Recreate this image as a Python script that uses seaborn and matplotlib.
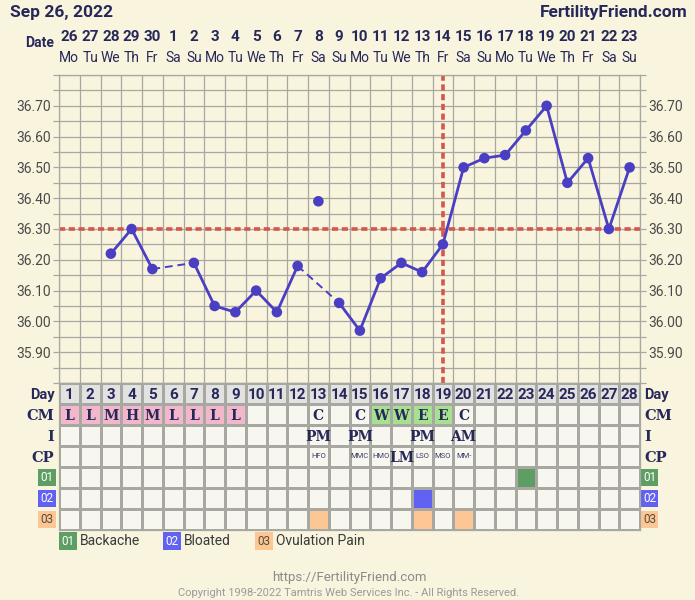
import numpy as np
import pandas as pd
import matplotlib
matplotlib.use("Agg")
import matplotlib.pyplot as plt
import matplotlib.transforms as mtransforms
from matplotlib.colors import ListedColormap
from matplotlib.patches import Rectangle
import seaborn as sns

# ---------------- data ----------------
cycle_days = list(range(1, 29))
dates = [26, 27, 28, 29, 30, 1, 2, 3, 4, 5, 6, 7, 8, 9, 10, 11, 12, 13, 14,
         15, 16, 17, 18, 19, 20, 21, 22, 23]
weekdays = ["Mo", "Tu", "We", "Th", "Fr", "Sa", "Su"] * 4
temps = [np.nan, np.nan, 36.22, 36.30, 36.17, np.nan, 36.19, 36.05, 36.03,
         36.10, 36.03, 36.18, 36.39, 36.06, 35.97, 36.14, 36.19, 36.16, 36.25,
         36.50, 36.53, 36.54, 36.62, 36.70, 36.45, 36.53, 36.30, 36.50]
discarded_days = [13]
coverline = 36.30
ovulation_day = 19
ytick_values = [35.90, 36.00, 36.10, 36.20, 36.30, 36.40, 36.50, 36.60, 36.70]
ytick_labels = ["35.90", "36.00", "36.10", "36.20", "36.30", "36.40", "36.50",
                "36.60", "36.70"]
cm_values = ["L", "L", "M", "H", "M", "L", "L", "L", "L", "", "", "", "C", "",
             "C", "W", "W", "E", "E", "C", "", "", "", "", "", "", "", ""]
intercourse_days = [13, 15, 18, 20]
intercourse_times = ["PM", "PM", "PM", "AM"]
cp_days = [13, 15, 16, 17, 18, 19, 20]
cp_codes = ["HFO", "MMC", "HMO", "LM", "LSO", "MSO", "MM-"]
symptom_codes = ["01", "02", "03"]
symptom_names = ["Backache", "Bloated", "Ovulation Pain"]
symptom_days = [[23], [18], [13, 18, 20]]
row_labels = ["Day", "CM", "I", "CP"]

# ---------------- styles ----------------
BG = "#F8F4DE"
CELL = "#F7F6EF"
DAYBG = "#E2E2E0"
GRID = "#A8A8A2"
NAVY = "#27285A"
LINE = "#4A3FC2"
RED = "#D4574E"
PINK = "#F2B7CB"
CMGREEN = "#A6E190"
SYM_COLORS = ["#5E9D63", "#6262F2", "#FCC794"]
SYM_TEXT = ["white", "white", "#5a4a3a"]
SERIF = ["DejaVu Serif"]

sns.set_theme(style="white")
plt.rcParams["font.family"] = ["Roboto", "DejaVu Sans"]

W, H = 695, 600
fig = plt.figure(figsize=(W / 100, H / 100), dpi=100, facecolor=BG)

# ---------------- temperature chart ----------------
ax = fig.add_axes([59 / W, 1 - 383 / H, 581 / W, 308 / H])
ax.set_facecolor(BG)

valid = [(d, t) for d, t in zip(cycle_days, temps)
         if not np.isnan(t) and d not in discarded_days]
rows = []
for k in range(len(valid) - 1):
    (d0, t0), (d1, t1) = valid[k], valid[k + 1]
    kind = "solid" if d1 - d0 == 1 else "gap"
    rows.append(dict(seg=k, day=d0, temp=t0, kind=kind))
    rows.append(dict(seg=k, day=d1, temp=t1, kind=kind))
seg = pd.DataFrame(rows)

pts = pd.DataFrame({"day": cycle_days, "temp": temps}).dropna()

ax.axhline(coverline, color=RED, lw=2.6, linestyle=(0, (1.7, 1.0)), zorder=2.5)
ax.axvline(ovulation_day, color=RED, lw=2.6, linestyle=(0, (1.7, 1.0)), zorder=2.5)

sns.lineplot(data=seg[seg.kind == "solid"], x="day", y="temp", units="seg",
             estimator=None, color=LINE, lw=2.0, ax=ax, legend=False, zorder=3)
sns.lineplot(data=seg[seg.kind == "gap"], x="day", y="temp", units="seg",
             estimator=None, color=LINE, lw=1.4, linestyle=(0, (4, 2.5)),
             ax=ax, legend=False, zorder=3)
sns.scatterplot(data=pts, x="day", y="temp", color=LINE, s=58, edgecolor="none",
                ax=ax, legend=False, zorder=4)

ax.set_xlim(0.5, 28.5)
ax.set_ylim(35.80, 36.80)
ax.set_xlabel("")
ax.set_ylabel("")
ax.set_xticks(np.arange(0.5, 28.6, 1.0))
ax.set_xticklabels([])
ax.tick_params(axis="x", length=0)
ypos = np.round(np.arange(35.80, 36.801, 0.05), 2)
ylabs = []
for v in ypos:
    match = [lab for tv, lab in zip(ytick_values, ytick_labels) if abs(tv - v) < 1e-6]
    ylabs.append(match[0] if match else "")
ax.set_yticks(ypos)
ax.set_yticklabels(ylabs)
ax.tick_params(axis="y", length=4, width=0.9, color=GRID, left=True, right=True,
               labelleft=True, labelright=True, labelsize=10,
               labelcolor="#4a4a4a", pad=2)
ax.grid(True, color=GRID, lw=0.9)
ax.set_axisbelow(True)
for sp in ax.spines.values():
    sp.set_visible(True)
    sp.set_color(GRID)
    sp.set_linewidth(0.9)

trans = mtransforms.blended_transform_factory(ax.transData, ax.transAxes)
for d, dt, wd in zip(cycle_days, dates, weekdays):
    ax.text(d, 1 + (75 - 37) / 308, str(dt), transform=trans, ha="center",
            va="center", fontsize=11, fontweight="bold", color=NAVY)
    ax.text(d, 1 + (75 - 58) / 308, wd, transform=trans, ha="center",
            va="center", fontsize=10, color=NAVY)

fig.text(54 / W, 1 - 43 / H, "Date", ha="right", va="center", fontsize=10,
         fontweight="bold", color=NAVY)
fig.text(10 / W, 1 - 13 / H, "Sep 26, 2022", ha="left", va="center",
         fontsize=12.5, fontweight="bold", color=NAVY)
fig.text(688 / W, 1 - 13 / H, "FertilityFriend.com", ha="right", va="center",
         fontsize=12.5, fontweight="bold", color=NAVY)

# ---------------- observation table ----------------
ax2 = fig.add_axes([59 / W, 1 - 530 / H, 581 / W, 147 / H])
codes = np.zeros((7, 28), dtype=int)
codes[0, :] = 1
for i, c in enumerate(cm_values):
    if c in ("L", "M", "H"):
        codes[1, i] = 2
    elif c in ("W", "E"):
        codes[1, i] = 3
for k, dl in enumerate(symptom_days):
    for d in dl:
        codes[4 + k, d - 1] = 4 + k
cmap = ListedColormap([CELL, DAYBG, PINK, CMGREEN] + SYM_COLORS)
sns.heatmap(codes, cmap=cmap, vmin=-0.5, vmax=6.5, cbar=False, linewidths=1.0,
            linecolor=GRID, ax=ax2, xticklabels=False, yticklabels=False)
for sp in ax2.spines.values():
    sp.set_visible(True)
    sp.set_color(GRID)
    sp.set_linewidth(0.9)

for i, d in enumerate(cycle_days):
    ax2.text(i + 0.5, 0.55, str(d), ha="center", va="center", fontsize=11,
             fontweight="bold", color=NAVY)
    if cm_values[i]:
        ax2.text(i + 0.5, 1.55, cm_values[i], ha="center", va="center",
                 fontsize=10, fontweight="bold", color=NAVY, family=SERIF)
for d, t in zip(intercourse_days, intercourse_times):
    ax2.text(d - 0.5, 2.55, t, ha="center", va="center", fontsize=10,
             fontweight="bold", color=NAVY, family=SERIF)
for d, c in zip(cp_days, cp_codes):
    if len(c) <= 2:
        ax2.text(d - 0.5, 3.55, c, ha="center", va="center", fontsize=10,
                 fontweight="bold", color=NAVY, family=SERIF)
    else:
        ax2.text(d - 0.5, 3.5, c, ha="center", va="center", fontsize=5.5,
                 color="#3d3d6a")

for r, lab in enumerate(row_labels):
    fam = ["Roboto", "DejaVu Sans"] if lab == "Day" else SERIF
    for x, ha in ((-0.22, "right"), (28.22, "left")):
        ax2.text(x, r + 0.55, lab, ha=ha, va="center", fontsize=10.5,
                 fontweight="bold", color=NAVY, family=fam, clip_on=False)

for k, code in enumerate(symptom_codes):
    r = 4 + k
    for x0, w in ((-1.02, 0.88), (28.05, 0.84)):
        ax2.add_patch(Rectangle((x0, r + 0.1), w, 0.8, facecolor=SYM_COLORS[k],
                                edgecolor="none", clip_on=False))
        ax2.text(x0 + w / 2, r + 0.52, code, ha="center", va="center",
                 fontsize=8.5, color=SYM_TEXT[k], clip_on=False)

# legend below the table
legend_x = [0.0, 5.0, 9.45]
for k, (code, name) in enumerate(zip(symptom_codes, symptom_names)):
    x0 = legend_x[k]
    ax2.add_patch(Rectangle((x0, 7.1), 0.88, 0.85, facecolor=SYM_COLORS[k],
                            edgecolor="none", clip_on=False))
    ax2.text(x0 + 0.44, 7.55, code, ha="center", va="center", fontsize=8.5,
             color=SYM_TEXT[k], clip_on=False)
    ax2.text(x0 + 1.02, 7.52, name, ha="left", va="center", fontsize=10,
             color="#3a3a3a", clip_on=False)

fig.text(349 / W, 1 - 578 / H, "https://FertilityFriend.com", ha="center",
         va="center", fontsize=9.5, color="#8a8a8a")
fig.text(349 / W, 1 - 593 / H,
         "Copyright 1998-2022 Tamtris Web Services Inc. - All Rights Reserved.",
         ha="center", va="center", fontsize=8, color="#9a9a9a")

fig.savefig("out.png", dpi=100, facecolor=BG)
